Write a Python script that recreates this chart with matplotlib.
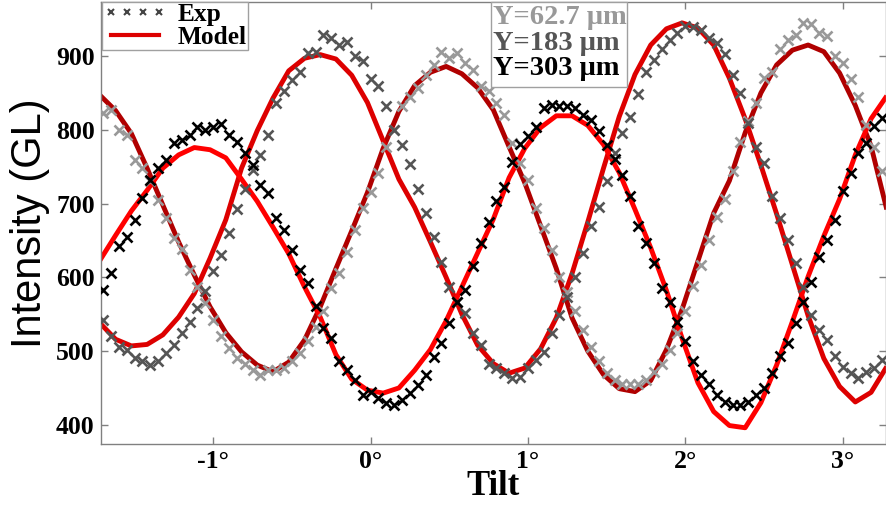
import numpy as np
import matplotlib
matplotlib.use('Agg')
import matplotlib.pyplot as plt
from matplotlib.lines import Line2D
from matplotlib.patches import Rectangle

# ---------------- data ----------------
tilt_exp = np.round(np.arange(-1.70, 3.2501, 0.05), 2)

exp_y303 = [583, 606, 642, 655, 678, 707, 732, 748, 759, 782,
            786, 793, 804, 800, 804, 808, 793, 784, 768, 752,
            725, 714, 680, 664, 637, 610, 592, 561, 531, 518,
            486, 474, 461, 441, 445, 436, 429, 427, 434, 443,
            454, 468, 492, 511, 538, 567, 583, 615, 646, 675,
            703, 723, 757, 781, 791, 804, 829, 833, 832, 832,
            829, 820, 814, 798, 780, 760, 739, 710, 669, 646,
            619, 585, 567, 540, 513, 486, 468, 456, 440, 431,
            427, 427, 431, 440, 450, 470, 493, 511, 538, 566,
            594, 628, 650, 678, 717, 741, 768, 782, 805, 816]

exp_y183 = [542, 520, 506, 502, 490, 486, 481, 486, 497, 508,
            524, 540, 558, 581, 608, 630, 660, 692, 720, 745,
            766, 793, 836, 852, 868, 879, 904, 906, 929, 924,
            915, 919, 900, 894, 869, 860, 832, 800, 780, 753,
            720, 687, 655, 621, 587, 567, 551, 525, 508, 483,
            477, 470, 463, 465, 477, 488, 499, 524, 549, 574,
            601, 633, 669, 696, 730, 768, 796, 818, 848, 879,
            895, 909, 922, 931, 941, 940, 936, 924, 918, 903,
            875, 850, 809, 777, 755, 710, 680, 651, 619, 587,
            549, 529, 515, 493, 479, 470, 463, 472, 477, 488]

exp_y627 = [823, 827, 800, 793, 759, 748, 730, 705, 680, 653,
            639, 610, 587, 565, 542, 520, 504, 490, 483, 474,
            468, 474, 474, 477, 486, 497, 513, 533, 554, 585,
            606, 635, 664, 694, 716, 741, 777, 800, 832, 845,
            857, 875, 888, 906, 897, 904, 891, 881, 859, 852,
            836, 820, 782, 755, 732, 694, 667, 637, 601, 580,
            554, 529, 506, 486, 470, 461, 456, 456, 456, 461,
            472, 483, 502, 524, 554, 588, 617, 651, 682, 706,
            744, 784, 812, 836, 870, 879, 910, 922, 928, 945,
            944, 931, 927, 900, 891, 869, 845, 807, 777, 744]

tilt_model = np.round(np.arange(-1.72, 3.2801, 0.10), 2)

model_y303 = [623, 657, 690, 718, 748, 766, 776, 773, 762, 733,
              703, 668, 632, 587, 546, 495, 462, 447, 443, 450,
              474, 502, 541, 587, 633, 679, 735, 775, 803, 819,
              819, 806, 780, 742, 692, 640, 582, 517, 457, 418,
              399, 396, 430, 481, 540, 601, 656, 706, 766, 815, 846]

model_y183 = [538, 516, 507, 509, 522, 546, 578, 626, 678, 748,
              799, 843, 880, 897, 902, 896, 874, 837, 785, 733,
              695, 648, 600, 550, 508, 483, 470, 477, 503, 545,
              605, 675, 748, 818, 875, 915, 937, 945, 938, 915,
              870, 815, 752, 686, 617, 548, 490, 452, 431, 444, 479]

model_y627 = [847, 826, 795, 748, 698, 648, 603, 560, 525, 499,
              481, 472, 485, 515, 560, 612, 663, 715, 775, 825,
              860, 878, 886, 876, 857, 827, 777, 728, 670, 612,
              545, 500, 468, 449, 445, 460, 502, 557, 622, 687,
              731, 796, 850, 888, 908, 915, 906, 877, 833, 778, 692]

series_labels = ['Y=62.7 \u03bcm', 'Y=183 \u03bcm', 'Y=303 \u03bcm']
legend_labels = ['Exp', 'Model']
xtick_vals = [-1, 0, 1, 2, 3]
xtick_labels = ['-1\u00b0', '0\u00b0', '1\u00b0', '2\u00b0', '3\u00b0']
ytick_vals = [400, 500, 600, 700, 800, 900]

# ---------------- styling ----------------
exp_colors = ['#999999', '#555555', '#000000']
model_colors = ['#b00000', '#dd0000', '#ff0000']
SERIF = ['Liberation Serif', 'DejaVu Serif']
SANS = ['Liberation Sans', 'DejaVu Sans']

W, H = 887, 516
fig = plt.figure(figsize=(W / 100, H / 100), dpi=100)
ax = fig.add_axes([101 / W, (H - 444) / H, (886 - 101) / W, (444 - 1.5) / H])

for ym, c in zip([model_y627, model_y183, model_y303], model_colors):
    ax.plot(tilt_model, ym, color=c, lw=3.5, solid_capstyle='butt',
            solid_joinstyle='round', zorder=2)

for ye, c in zip([exp_y627, exp_y183, exp_y303], exp_colors):
    ax.plot(tilt_exp, ye, ls='none', marker='x', ms=7.2, mew=1.9, color=c, zorder=3)

ax.set_xlim(-1.713, 3.275)
ax.set_ylim(374, 974)

ax.set_xticks(xtick_vals)
ax.set_xticklabels(xtick_labels, family=SERIF, weight='bold', size=18.5)
ax.set_yticks(ytick_vals)
ax.set_yticklabels([str(v) for v in ytick_vals], family=SERIF, weight='bold', size=18.5)
ax.tick_params(direction='in', length=5, width=1, color='#808080',
               top=True, right=True, pad=4)
ax.tick_params(axis='y', pad=4.5)
for s in ax.spines.values():
    s.set_color('#808080')
    s.set_linewidth(1)

ax.set_xlabel('Tilt', family=SERIF, weight='bold', size=25, labelpad=-2)
ax.set_ylabel('Intensity (GL)', family=SANS, size=30, labelpad=4)

h_exp = Line2D([], [], ls='none', marker='x', color='#444444', ms=5, mew=1.5)
h_mod = Line2D([], [], color='#dd0000', lw=3)
leg = ax.legend([h_exp, h_mod], legend_labels, loc='upper left',
                bbox_to_anchor=(0.001, 1.0), numpoints=4, fancybox=False,
                framealpha=1, borderpad=0.05, labelspacing=0.0,
                handlelength=2.5, handletextpad=0.42, borderaxespad=0,
                prop=dict(family=SERIF, weight='bold', size=18.3))
leg.get_frame().set_edgecolor('#a0a0a0')
leg.get_frame().set_linewidth(1)

# text box with the three series names
bx0, bx1, by0, by1 = 490.7, 626.7, 1.5, 87.3
fig.add_artist(Rectangle((bx0 / W, 1 - by1 / H), (bx1 - bx0) / W, (by1 - by0) / H,
                         transform=fig.transFigure, facecolor='white',
                         edgecolor='#a0a0a0', lw=1, zorder=5))
for lab, c, base in zip(series_labels, exp_colors, [24, 49.5, 75]):
    fig.text(493.5 / W, 1 - base / H, lab, color=c, family=SERIF, weight='bold',
             size=20.5, va='baseline', ha='left', zorder=6)

fig.savefig('out.png', dpi=100)
